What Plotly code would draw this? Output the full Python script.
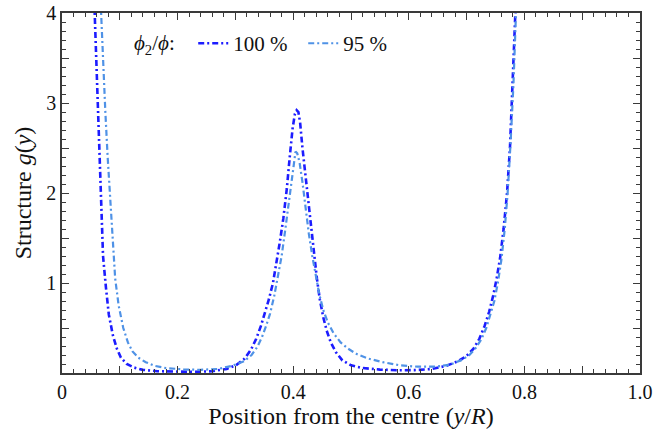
import plotly.graph_objects as go

# Radial position y/R and structure function g(y) for two phi2/phi ratios
x_100 = [0.056, 0.059, 0.062, 0.065, 0.068, 0.071, 0.076, 0.081, 0.088, 0.095, 0.102, 0.112,
         0.125, 0.140, 0.165, 0.200, 0.230, 0.260, 0.285, 0.302, 0.316, 0.327, 0.336, 0.344,
         0.351, 0.358, 0.365, 0.371, 0.377, 0.383, 0.389, 0.394, 0.399, 0.403, 0.406, 0.409,
         0.412, 0.416, 0.421, 0.426, 0.431, 0.436, 0.441, 0.446, 0.452, 0.458, 0.465, 0.474,
         0.485, 0.500, 0.520, 0.550, 0.580, 0.610, 0.640, 0.665, 0.685, 0.700, 0.712, 0.722,
         0.731, 0.739, 0.746, 0.752, 0.758, 0.764, 0.770, 0.775, 0.780, 0.785]
g_100 = [4.10, 3.50, 3.00, 2.40, 1.80, 1.30, 0.95, 0.65, 0.42, 0.27, 0.17, 0.10,
         0.06, 0.035, 0.02, 0.012, 0.012, 0.02, 0.045, 0.09, 0.16, 0.26, 0.38, 0.52,
         0.66, 0.82, 1.00, 1.22, 1.46, 1.72, 2.05, 2.40, 2.72, 2.88, 2.92, 2.90,
         2.78, 2.50, 2.20, 1.90, 1.60, 1.30, 1.05, 0.82, 0.62, 0.47, 0.34, 0.23,
         0.14, 0.085, 0.055, 0.038, 0.030, 0.032, 0.045, 0.08, 0.13, 0.19, 0.27, 0.38,
         0.52, 0.68, 0.86, 1.05, 1.28, 1.60, 2.00, 2.50, 3.20, 4.10]

x_95 = [0.067, 0.071, 0.075, 0.079, 0.083, 0.087, 0.092, 0.098, 0.106, 0.114, 0.122, 0.132,
        0.145, 0.160, 0.180, 0.210, 0.240, 0.270, 0.295, 0.315, 0.328, 0.338, 0.346, 0.353,
        0.360, 0.367, 0.374, 0.380, 0.386, 0.392, 0.397, 0.401, 0.404, 0.407, 0.411, 0.416,
        0.421, 0.427, 0.433, 0.439, 0.445, 0.452, 0.460, 0.470, 0.482, 0.495, 0.510, 0.530,
        0.555, 0.585, 0.615, 0.645, 0.670, 0.690, 0.705, 0.716, 0.726, 0.734, 0.741, 0.748,
        0.754, 0.760, 0.766, 0.771, 0.776, 0.781, 0.786]
g_95 = [4.10, 3.40, 2.90, 2.40, 2.00, 1.55, 1.05, 0.75, 0.50, 0.34, 0.24, 0.17,
        0.12, 0.08, 0.055, 0.04, 0.035, 0.045, 0.08, 0.13, 0.20, 0.29, 0.40, 0.52,
        0.66, 0.85, 1.07, 1.30, 1.58, 1.88, 2.15, 2.36, 2.46, 2.44, 2.34, 2.12,
        1.85, 1.55, 1.30, 1.08, 0.88, 0.70, 0.56, 0.44, 0.34, 0.27, 0.21, 0.16,
        0.12, 0.085, 0.07, 0.07, 0.09, 0.14, 0.20, 0.28, 0.38, 0.50, 0.64, 0.80,
        1.00, 1.25, 1.60, 2.00, 2.55, 3.20, 4.10]

series_names = ["100 %", "95 %"]
series_colors = ["#1c1cff", "#4f92e6"]

x_tickvals = [0, 0.1, 0.2, 0.3, 0.4, 0.5, 0.6, 0.7, 0.8, 0.9, 1.0]
x_ticktext = ["0", "", "0.2", "", "0.4", "", "0.6", "", "0.8", "", "1.0"]
y_tickvals = [0, 0.5, 1, 1.5, 2, 2.5, 3, 3.5, 4]
y_ticktext = ["", "", "1", "", "2", "", "3", "", "4"]

serif = "Liberation Serif, Times New Roman, serif"
frame_color = "#3a3a3a"
text_color = "#111111"

fig = go.Figure()
fig.add_trace(go.Scatter(x=x_100, y=g_100, mode="lines", name=series_names[0],
                         line=dict(color=series_colors[0], width=2.6,
                                   dash="6px,3px,2px,3px")))
fig.add_trace(go.Scatter(x=x_95, y=g_95, mode="lines", name=series_names[1],
                         line=dict(color=series_colors[1], width=2.2,
                                   dash="6px,3px,2px,3px")))

axis_common = dict(
    showgrid=False, zeroline=False, showline=True, linecolor=frame_color, linewidth=1.5,
    mirror="ticks", ticks="inside", ticklen=7, tickwidth=1.2, tickcolor=frame_color,
    tickfont=dict(family=serif, size=20, color=text_color), automargin=False,
)

fig.update_xaxes(
    range=[0, 1], tickmode="array", tickvals=x_tickvals, ticktext=x_ticktext,
    minor=dict(dtick=0.02, ticks="inside", ticklen=4, tickwidth=1, tickcolor=frame_color),
    title=dict(text="Position from the centre (<i>y</i>/<i>R</i>)",
               font=dict(family=serif, size=24, color=text_color), standoff=4),
    **axis_common,
)
fig.update_yaxes(
    range=[0, 4], tickmode="array", tickvals=y_tickvals, ticktext=y_ticktext,
    minor=dict(dtick=0.1, ticks="inside", ticklen=4, tickwidth=1, tickcolor=frame_color),
    title=dict(text="Structure <i>g</i>(<i>y</i>)",
               font=dict(family=serif, size=24, color=text_color), standoff=8),
    **axis_common,
)

fig.update_layout(
    width=654, height=434,
    margin=dict(l=62, r=14, t=13, b=61),
    paper_bgcolor="white", plot_bgcolor="white",
    font=dict(family=serif, color=text_color),
    showlegend=True,
    legend=dict(
        orientation="h", x=0.121, y=0.915, xanchor="left", yanchor="middle",
        bgcolor="rgba(0,0,0,0)", font=dict(family=serif, size=21, color=text_color),
        title=dict(text="<i>ϕ</i><sub>2</sub>/<i>ϕ</i>:\u00a0\u00a0", side="left",
                   font=dict(family=serif, size=21, color=text_color)),
        entrywidth=65, entrywidthmode="pixels", tracegroupgap=0,
    ),
)

fig.write_html("out.html")
